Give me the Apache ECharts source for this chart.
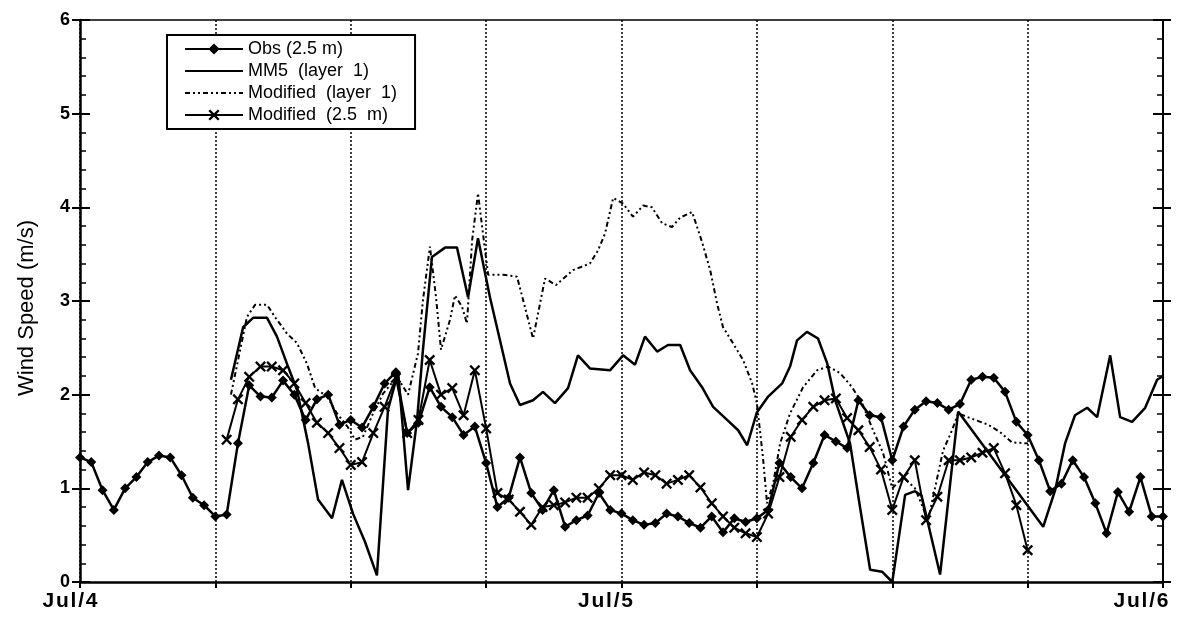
<!DOCTYPE html>
<html>
<head>
    <meta charset="utf-8">
    <script src="https://cdn.jsdelivr.net/npm/echarts@6/dist/echarts.min.js"></script>
    <style>
        html, body { margin: 0; padding: 0; background: #fff; }
        #chart { width: 1190px; height: 619px; }
    </style>
</head>
<body>
<div id="chart"></div>
<script>
    // hours from Jul/4 00:00, wind speed (m/s)
    var obsData = [
        [0, 1.33], [0.5, 1.28], [1, 0.98], [1.5, 0.77], [2, 1.0], [2.5, 1.12], [3, 1.28], [3.5, 1.35],
        [4, 1.33], [4.5, 1.14], [5, 0.9], [5.5, 0.82], [6, 0.7], [6.5, 0.72], [7, 1.48], [7.5, 2.1],
        [8, 1.98], [8.5, 1.97], [9, 2.15], [9.5, 2.0], [10, 1.73], [10.5, 1.95], [11, 2.0], [11.5, 1.68],
        [12, 1.73], [12.5, 1.65], [13, 1.87], [13.5, 2.12], [14, 2.24], [14.5, 1.59], [15, 1.7], [15.5, 2.08],
        [16, 1.87], [16.5, 1.76], [17, 1.57], [17.5, 1.66], [18, 1.27], [18.5, 0.8], [19, 0.9], [19.5, 1.33],
        [20, 0.95], [20.5, 0.77], [21, 0.98], [21.5, 0.59], [22, 0.66], [22.5, 0.71], [23, 0.95], [23.5, 0.77],
        [24, 0.73], [24.5, 0.66], [25, 0.61], [25.5, 0.63], [26, 0.73], [26.5, 0.7], [27, 0.63], [27.5, 0.58],
        [28, 0.7], [28.5, 0.53], [29, 0.68], [29.5, 0.64], [30, 0.68], [30.5, 0.77], [31, 1.27], [31.5, 1.12],
        [32, 1.0], [32.5, 1.27], [33, 1.57], [33.5, 1.5], [34, 1.43], [34.5, 1.94], [35, 1.78], [35.5, 1.76],
        [36, 1.3], [36.5, 1.66], [37, 1.84], [37.5, 1.93], [38, 1.91], [38.5, 1.84], [39, 1.9], [39.5, 2.16],
        [40, 2.19], [40.5, 2.18], [41, 2.03], [41.5, 1.71], [42, 1.57], [42.5, 1.3], [43, 0.97], [43.5, 1.05],
        [44, 1.3], [44.5, 1.12], [45, 0.84], [45.5, 0.52], [46, 0.96], [46.5, 0.75], [47, 1.12], [47.5, 0.7],
        [48, 0.7]
    ];

    var mm5Data = [
        [6.69, 2.16], [7.23, 2.72], [7.67, 2.82], [8.29, 2.82], [8.73, 2.62], [9.22, 2.3], [9.62, 2.05],
        [10.11, 1.48], [10.55, 0.88], [11.17, 0.68], [11.61, 1.09], [12.1, 0.73], [12.63, 0.43], [13.16, 0.07],
        [13.65, 1.84], [14.1, 2.24], [14.54, 0.98], [14.94, 1.73], [15.2, 2.48], [15.6, 3.47], [16.18, 3.57],
        [16.71, 3.57], [17.2, 3.04], [17.64, 3.67], [18.17, 3.04], [19.06, 2.12], [19.5, 1.89], [20.08, 1.94],
        [20.52, 2.03], [21.05, 1.91], [21.63, 2.07], [22.07, 2.42], [22.6, 2.28], [23.49, 2.26], [24.07, 2.42],
        [24.6, 2.32], [25.04, 2.62], [25.58, 2.46], [26.06, 2.53], [26.6, 2.53], [27.04, 2.26], [27.57, 2.08],
        [28.06, 1.87], [28.68, 1.73], [29.17, 1.62], [29.57, 1.46], [30.0, 1.81], [30.5, 1.98], [31.12, 2.12],
        [31.47, 2.3], [31.78, 2.58], [32.22, 2.67], [32.71, 2.6], [33.11, 2.34], [33.47, 1.94], [34.13, 1.48],
        [34.57, 0.8], [35.02, 0.13], [35.55, 0.11], [36.0, 0.0], [36.57, 0.93], [37.01, 0.97], [37.3, 0.92],
        [38.12, 0.08], [38.92, 1.82], [42.69, 0.59], [43.22, 0.98], [43.66, 1.48], [44.1, 1.78], [44.64, 1.86],
        [45.08, 1.76], [45.66, 2.42], [46.1, 1.76], [46.63, 1.71], [47.21, 1.86], [47.74, 2.16], [48.0, 2.2]
    ];

    var modLayerData = [
        [6.69, 2.0], [7.4, 2.83], [7.76, 2.96], [8.29, 2.96], [8.64, 2.83], [9.18, 2.65], [9.62, 2.55],
        [10.06, 2.33], [10.42, 2.07], [10.95, 1.98], [11.39, 1.8], [11.88, 1.65], [12.19, 1.52], [12.54, 1.55],
        [12.99, 1.8], [13.43, 2.01], [14.05, 2.19], [14.54, 2.0], [14.98, 2.44], [15.2, 3.01], [15.51, 3.58],
        [15.78, 3.04], [16.0, 2.48], [16.4, 2.8], [16.62, 3.06], [16.93, 2.94], [17.15, 2.76], [17.38, 3.65],
        [17.64, 4.15], [17.86, 3.72], [18.09, 3.28], [18.75, 3.28], [19.37, 3.26], [20.08, 2.6], [20.61, 3.24],
        [21.1, 3.17], [21.85, 3.33], [22.6, 3.4], [22.96, 3.54], [23.27, 3.72], [23.63, 4.1], [24.07, 4.04],
        [24.51, 3.9], [24.96, 4.02], [25.35, 4.0], [25.8, 3.83], [26.24, 3.79], [26.6, 3.89], [27.13, 3.95],
        [27.57, 3.63], [27.93, 3.33], [28.24, 2.97], [28.5, 2.72], [28.94, 2.55], [29.39, 2.37], [29.79, 2.12],
        [30.0, 1.91], [30.27, 1.33], [30.45, 0.84], [30.72, 1.05], [31.03, 1.48], [31.47, 1.8], [32.05, 2.08],
        [32.67, 2.26], [33.16, 2.3], [33.69, 2.23], [34.22, 2.08], [34.66, 1.91], [35.15, 1.62], [35.59, 1.38],
        [36.0, 1.0], [36.48, 1.12], [37.01, 1.0], [37.59, 0.66], [38.25, 1.4], [38.65, 1.62], [38.92, 1.8],
        [39.45, 1.75], [40.25, 1.68], [40.78, 1.6], [41.31, 1.49], [42.02, 1.48]
    ];

    var modSurfData = [
        [6.5, 1.52], [7, 1.95], [7.5, 2.19], [8, 2.3], [8.5, 2.3], [9, 2.26], [9.5, 2.12], [10, 1.91],
        [10.5, 1.7], [11, 1.59], [11.5, 1.43], [12, 1.25], [12.5, 1.28], [13, 1.59], [13.5, 1.87], [14, 2.18],
        [14.5, 1.59], [15, 1.73], [15.5, 2.37], [16, 2.0], [16.5, 2.07], [17, 1.78], [17.5, 2.26], [18, 1.64],
        [18.5, 0.95], [19, 0.88], [19.5, 0.75], [20, 0.61], [20.5, 0.8], [21, 0.82], [21.5, 0.85], [22, 0.9],
        [22.5, 0.9], [23, 1.0], [23.5, 1.14], [24, 1.14], [24.5, 1.09], [25, 1.17], [25.5, 1.14], [26, 1.05],
        [26.5, 1.09], [27, 1.14], [27.5, 1.01], [28, 0.84], [28.5, 0.7], [29, 0.58], [29.5, 0.52], [30, 0.48],
        [30.5, 0.73], [31, 1.12], [31.5, 1.55], [32, 1.73], [32.5, 1.87], [33, 1.94], [33.5, 1.96], [34, 1.75],
        [34.5, 1.62], [35, 1.44], [35.5, 1.2], [36, 0.77], [36.5, 1.12], [37, 1.3], [37.5, 0.66], [38, 0.91],
        [38.5, 1.3], [39, 1.3], [39.5, 1.33], [40, 1.38], [40.5, 1.43], [41, 1.16], [41.5, 0.82], [42, 0.34]
    ];

    var seriesNames = ['Obs (2.5 m)', 'MM5  (layer  1)', 'Modified  (layer  1)', 'Modified  (2.5  m)'];
    var dayLabels = { 0: 'Jul/4', 24: 'Jul/5', 48: 'Jul/6' };

    var crossSymbol = 'path://M0,1.5L1.5,0L5,3.5L8.5,0L10,1.5L6.5,5L10,8.5L8.5,10L5,6.5L1.5,10L0,8.5L3.5,5Z';

    var chart = echarts.init(document.getElementById('chart'));
    var font = 'Liberation Sans, Arial, sans-serif';
    var hideMark = { opacity: 0 };

    // extra axes only to draw the outer half of the crossing ticks
    var tickAxis = {
        type: 'value', min: 0, max: 6, interval: 1,
        axisLine: { show: false },
        axisTick: { show: true, inside: false, length: 8, lineStyle: { color: '#000', width: 2 } },
        axisLabel: { show: false },
        splitLine: { show: false }
    };

    var option = {
        backgroundColor: '#fff',
        animation: false,
        textStyle: { fontFamily: font, color: '#000' },
        grid: { left: 80, right: 27, top: 20, bottom: 37 },
        legend: {
            left: 167, top: 35,
            orient: 'vertical',
            backgroundColor: '#fff',
            borderColor: '#000', borderWidth: 2, borderRadius: 0,
            padding: [5, 18, 5, 17],
            itemWidth: 58, itemHeight: 14, itemGap: 4, itemTextGap: 3,
            textStyle: { fontFamily: font, fontSize: 18, color: '#000' },
            data: [
                { name: seriesNames[0] },
                { name: seriesNames[1], itemStyle: hideMark },
                { name: seriesNames[2], itemStyle: hideMark },
                { name: seriesNames[3] }
            ]
        },
        xAxis: [{
            type: 'value', min: 0, max: 48, interval: 6,
            axisLine: { lineStyle: { color: '#000', width: 2.5 } },
            axisTick: { inside: false, length: 6, lineStyle: { color: '#000', width: 2 } },
            axisLabel: {
                color: '#000', margin: 9,
                showMaxLabel: true, showMinLabel: true,
                formatter: function (v) {
                    if (!dayLabels[v]) return '';
                    var k = v === 0 ? 'a' : (v === 24 ? 'b' : 'c');
                    return '{' + k + '|' + dayLabels[v].split('').join('\u200a') + '}';
                },
                rich: {
                    a: { fontSize: 21, fontWeight: 'bold', fontFamily: font, color: '#000', padding: [0, 20, 0, 0] },
                    b: { fontSize: 21, fontWeight: 'bold', fontFamily: font, color: '#000', padding: [0, 32, 0, 0] },
                    c: { fontSize: 21, fontWeight: 'bold', fontFamily: font, color: '#000', padding: [0, 44, 0, 0] }
                }
            },
            splitLine: { show: true, lineStyle: { color: '#000', type: [2, 2], width: 1.5 } }
        }, {
            type: 'value', min: 0, max: 48, position: 'top',
            axisLine: { onZero: false, lineStyle: { color: '#000', width: 1.5 } },
            axisTick: { show: false }, axisLabel: { show: false }, splitLine: { show: false }
        }],
        yAxis: [{
            type: 'value', min: 0, max: 6, interval: 1,
            name: 'Wind Speed (m/s)', nameLocation: 'middle', nameGap: 42,
            nameTextStyle: { fontSize: 22, color: '#000', fontFamily: font, padding: [0, 14, 0, 0] },
            axisLine: { show: true, lineStyle: { color: '#000', width: 2.5 } },
            axisTick: { show: true, inside: true, length: 10, lineStyle: { color: '#000', width: 2 } },
            minorTick: { show: true, splitNumber: 5, length: 6, lineStyle: { color: '#000', width: 1.5 } },
            axisLabel: { color: '#000', fontSize: 18, fontWeight: 'bold', margin: 10 },
            splitLine: { show: false }
        }, {
            type: 'value', min: 0, max: 6, interval: 1, position: 'right',
            axisLine: { show: true, onZero: false, lineStyle: { color: '#000', width: 2 } },
            axisTick: { show: true, inside: true, length: 10, lineStyle: { color: '#000', width: 2 } },
            minorTick: { show: true, splitNumber: 5, length: 6, lineStyle: { color: '#000', width: 1.5 } },
            axisLabel: { show: false },
            splitLine: { show: false }
        },
        Object.assign({ position: 'left' }, tickAxis),
        Object.assign({ position: 'right' }, tickAxis)],
        series: [{
            name: seriesNames[0], type: 'line', data: obsData,
            symbol: 'diamond', symbolSize: 10, showSymbol: true,
            itemStyle: { color: '#000' },
            lineStyle: { color: '#000', width: 2.5 },
            z: 5
        }, {
            name: seriesNames[1], type: 'line', data: mm5Data,
            symbol: 'none',
            itemStyle: { color: '#000' },
            lineStyle: { color: '#000', width: 2.5 },
            z: 3
        }, {
            name: seriesNames[2], type: 'line', data: modLayerData,
            symbol: 'none',
            itemStyle: { color: '#000' },
            lineStyle: { color: '#000', width: 2, type: [5, 3, 2, 3, 2, 3] },
            z: 2
        }, {
            name: seriesNames[3], type: 'line', data: modSurfData,
            symbol: crossSymbol, symbolSize: 11, showSymbol: true,
            itemStyle: { color: '#000' },
            lineStyle: { color: '#000', width: 2 },
            z: 4
        }]
    };

    chart.setOption(option);

    window.onresize = function () {
        chart.resize();
    };
</script>
</body>
</html>
